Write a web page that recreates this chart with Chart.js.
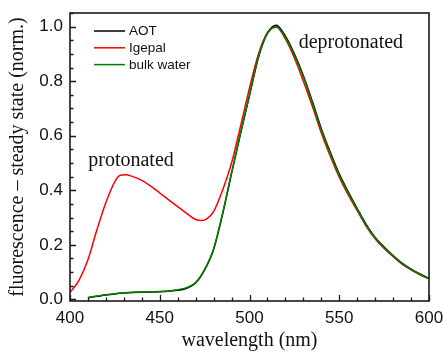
<!DOCTYPE html>
<html><head><meta charset="utf-8">
<script src="https://cdn.jsdelivr.net/npm/chart.js@4"></script>
<style>html,body{margin:0;padding:0;background:#fff;}#wrap{width:443px;height:351px;position:relative;}</style>
</head><body><div id="wrap"><canvas id="c"></canvas></div>
<script>
// wavelengths (nm) for AOT and bulk water spectra
const wavelengthsWater = [410,415,420,425,430,435,440,445,450,455,460,465,470,475,480,485,490,495,500,505,510,515,520,525,530,535,540,545,550,555,560,565,570,575,580,585,590,595,600];
const bulkWater = [0.007,0.012,0.017,0.021,0.024,0.026,0.027,0.028,0.029,0.031,0.035,0.043,0.062,0.11,0.185,0.315,0.465,0.61,0.75,0.89,0.975,1.0,0.96,0.895,0.815,0.72,0.62,0.535,0.455,0.39,0.33,0.272,0.225,0.19,0.16,0.132,0.11,0.092,0.076];
const aot = [0.006,0.011,0.016,0.020,0.023,0.025,0.026,0.027,0.028,0.030,0.033,0.041,0.060,0.108,0.183,0.312,0.462,0.608,0.748,0.888,0.976,1.005,0.965,0.9,0.82,0.726,0.626,0.54,0.46,0.394,0.333,0.275,0.227,0.192,0.161,0.133,0.111,0.093,0.077];
// wavelengths (nm) for Igepal spectrum
const wavelengthsIgepal = [400,405,410,415,420,425,428,431,435,440,445,450,455,460,465,470,473,476,480,485,490,495,500,505,510,515,520,525,530,535,540,545,550,555,560,565,570,575,580,585,590,595,600];
const igepal = [0.025,0.07,0.145,0.255,0.355,0.432,0.455,0.457,0.45,0.436,0.415,0.39,0.365,0.34,0.315,0.293,0.289,0.294,0.322,0.40,0.50,0.635,0.775,0.9,0.978,0.998,0.955,0.885,0.8,0.708,0.61,0.525,0.448,0.383,0.325,0.268,0.222,0.187,0.157,0.129,0.108,0.09,0.075];
const seriesLabels = ['AOT','Igepal','bulk water'];
const seriesColors = ['#000000','#ff0000','#008000'];
const xTicks = [400,450,500,550,600];
const yTicks = [0.0,0.2,0.4,0.6,0.8,1.0];
const xTitle = 'wavelength (nm)';
const yTitle = 'fluorescence \u2013 steady state (norm.)';
const notes = [{text:'protonated', x:434, y:0.51}, {text:'deprotonated', x:556.5, y:0.94}];

const toXY = (xs, ys) => xs.map((x,i)=>({x, y: ys[i]}));

const frame = {
  id:'frame',
  afterDatasetsDraw(chart){
    const {ctx, chartArea:a, scales:{x,y}} = chart;
    ctx.save();
    ctx.strokeStyle = '#1a1a1a';
    ctx.lineWidth = 1.3;
    ctx.beginPath();
    for(let v=400; v<=600; v+=10){
      const px = Math.round(x.getPixelForValue(v))+0.5;
      const len = (v%50===0)?6:3.5;
      ctx.moveTo(px, a.bottom); ctx.lineTo(px, a.bottom-len);
    }
    for(let k=0; k<=21; k++){
      const v = k*0.05;
      const py = Math.round(y.getPixelForValue(v))+0.5;
      const len = (k%4===0)?6:3.5;
      ctx.moveTo(a.left, py); ctx.lineTo(a.left+len, py);
    }
    ctx.stroke();
    ctx.lineWidth = 1.6;
    ctx.strokeRect(a.left, a.top, a.right-a.left, a.bottom-a.top);
    // annotations
    ctx.fillStyle = '#111';
    ctx.font = '20px "Liberation Serif", "Times New Roman", serif';
    ctx.textAlign = 'center'; ctx.textBaseline = 'middle';
    notes.forEach(n=>ctx.fillText(n.text, x.getPixelForValue(n.x), y.getPixelForValue(n.y)));
    // legend
    ctx.font = '13.5px "Liberation Sans", Arial, sans-serif';
    ctx.textAlign = 'left';
    [0,1,2].forEach((i,k)=>{
      const ly = 31 + k*16.8;
      ctx.strokeStyle = seriesColors[i]; ctx.lineWidth = 1.5;
      ctx.beginPath(); ctx.moveTo(94, ly); ctx.lineTo(125, ly); ctx.stroke();
      ctx.fillStyle = '#111';
      ctx.fillText(seriesLabels[i], 129, ly+0.5);
    });
    ctx.restore();
  }
};

new Chart(document.getElementById('c'), {
  type:'line',
  data:{datasets:[
    {label:seriesLabels[2], data:toXY(wavelengthsWater,bulkWater), borderColor:seriesColors[2], order:0},
    {label:seriesLabels[0], data:toXY(wavelengthsWater,aot), borderColor:seriesColors[0], order:1},
    {label:seriesLabels[1], data:toXY(wavelengthsIgepal,igepal), borderColor:seriesColors[1], order:2}
  ].map(d=>Object.assign(d,{borderWidth:1.5, pointRadius:0, fill:false, cubicInterpolationMode:'monotone'}))},
  plugins:[frame],
  options:{
    responsive:true, maintainAspectRatio:false, animation:false,
    layout:{padding:{top:13,right:14,left:0,bottom:0}},
    plugins:{legend:{display:false}, tooltip:{enabled:false}},
    scales:{
      x:{type:'linear', min:400, max:600,
        afterBuildTicks:s=>{s.ticks = xTicks.map(v=>({value:v}));},
        afterFit:s=>{s.height=50; s.paddingLeft=0; s.paddingRight=0;},
        grid:{display:false, drawTicks:false}, border:{display:false},
        ticks:{padding:7, color:'#111', font:{family:'"Liberation Sans", Arial, sans-serif', size:17}, maxRotation:0, callback:v=>String(v)},
        title:{display:true, text:xTitle, color:'#111', font:{family:'"Liberation Serif", "Times New Roman", serif', size:20, lineHeight:1}, padding:{top:0,bottom:0}}
      },
      y:{type:'linear', min:-0.006, max:1.05,
        afterBuildTicks:s=>{s.ticks = yTicks.map(v=>({value:v}));},
        afterFit:s=>{s.width=70; s.paddingTop=0; s.paddingBottom=0;},
        grid:{display:false, drawTicks:false}, border:{display:false},
        ticks:{padding:7, color:'#111', font:{family:'"Liberation Sans", Arial, sans-serif', size:17}, callback:v=>v.toFixed(1)},
        title:{display:true, text:yTitle, color:'#111', font:{family:'"Liberation Serif", "Times New Roman", serif', size:20, lineHeight:1}, padding:{top:8,bottom:0}}
      }
    }
  }
});
</script></body></html>
